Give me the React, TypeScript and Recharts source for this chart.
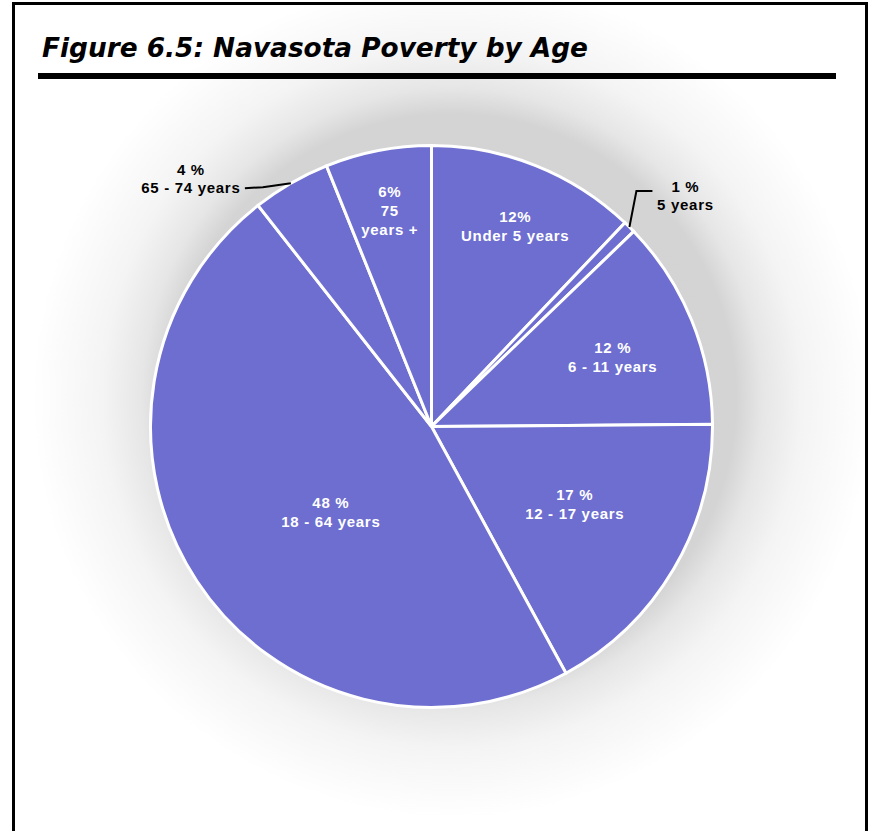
import React from "react";
import { PieChart, Pie, Cell } from "recharts";

// share of people below poverty line, by age group (clockwise from 12 o'clock)
const AGE_GROUPS = [
  "Under 5 years",
  "5 years",
  "6 - 11 years",
  "12 - 17 years",
  "18 - 64 years",
  "65 - 74 years",
  "75 years +",
];
const SHARES = [12.1, 0.7, 12.1, 17.2, 47.4, 4.5, 6.1];
const PCT_TEXT = ["12%", "1 %", "12 %", "17 %", "48 %", "4 %", "6%"];
const LABEL_TEXT = [
  ["Under 5 years"],
  ["5 years"],
  ["6 - 11 years"],
  ["12 -  17  years"],
  ["18 - 64  years"],
  ["65 - 74  years"],
  ["75", "years +"],
];

const SLICE_FILL = "#6D6ECF";
const RAD = Math.PI / 180;
const FONT = "'Liberation Sans', Arial, sans-serif";
const LBL_SIZE = 15;
const LBL_SPACING = 0.7;

// where each label sits: radius ratio + small angle nudge, or outside with a leader
const LABEL_PLACE: { r?: number; nudge?: number; outside?: "left" | "right" }[] = [
  { r: 0.77, nudge: -1 },
  { outside: "right" },
  { r: 0.69, nudge: -1.4 },
  { r: 0.58, nudge: 2 },
  { r: 0.47, nudge: 7 },
  { outside: "left" },
  { r: 0.78, nudge: 0 },
];

const data = AGE_GROUPS.map((name, i) => ({ name, value: SHARES[i] }));

const textProps = (fill: string) => ({
  textAnchor: "middle" as const,
  fontFamily: FONT,
  fontWeight: "bold",
  fontSize: LBL_SIZE,
  letterSpacing: LBL_SPACING,
  fill,
});

const renderLabel = (props: any) => {
  const { cx, cy, midAngle, outerRadius, index } = props;
  const place = LABEL_PLACE[index];
  const lines = [PCT_TEXT[index], ...LABEL_TEXT[index]];
  const lh = 19;

  if (place.outside) {
    const ex = cx + outerRadius * Math.cos(midAngle * RAD);
    const ey = cy - outerRadius * Math.sin(midAngle * RAD);
    if (place.outside === "right") {
      return (
        <g key={`lbl-${index}`}>
          <path
            d={`M${ex},${ey} L${ex + 7},${ey - 36} L${ex + 23},${ey - 36}`}
            stroke="#000"
            strokeWidth={2}
            fill="none"
          />
          <text x={ex + 56} y={ey - 35} {...textProps("#000")}>
            {lines.map((t, k) => (
              <tspan key={k} x={ex + 56} dy={k === 0 ? 0 : 18}>
                {t}
              </tspan>
            ))}
          </text>
        </g>
      );
    }
    return (
      <g key={`lbl-${index}`}>
        <path
          d={`M${ex},${ey} L${ex - 28},${ey + 4} L${ex - 46},${ey + 5}`}
          stroke="#000"
          strokeWidth={2}
          fill="none"
        />
        <text x={ex - 100} y={ey - 8} {...textProps("#000")}>
          {lines.map((t, k) => (
            <tspan key={k} x={ex - 100} dy={k === 0 ? 0 : 18}>
              {t}
            </tspan>
          ))}
        </text>
      </g>
    );
  }

  const a = (midAngle + (place.nudge || 0)) * RAD;
  const r = outerRadius * (place.r || 0.6);
  const x = cx + r * Math.cos(a);
  const y = cy - r * Math.sin(a);
  const y0 = y - ((lines.length - 1) * lh) / 2 + 5;
  return (
    <text key={`lbl-${index}`} x={x} y={y0} {...textProps("#fff")}>
      {lines.map((t, k) => (
        <tspan key={k} x={x} dy={k === 0 ? 0 : lh}>
          {t}
        </tspan>
      ))}
    </text>
  );
};

export default function App() {
  return (
    <div
      style={{
        position: "absolute",
        left: 0,
        top: 0,
        width: 871,
        height: 831,
        overflow: "hidden",
        background:
          "radial-gradient(circle at 452px 398px, #d2d2d2 0px, #d4d4d4 284px, #e6e6e6 310px, #f4f4f4 350px, #ffffff 420px)",
      }}
    >
      {/* frame */}
      <div
        style={{
          position: "absolute",
          left: 12,
          top: 2,
          width: 856,
          height: 900,
          border: "3px solid #000",
          boxSizing: "border-box",
        }}
      />
      {/* title */}
      <svg
        width={871}
        height={80}
        style={{ position: "absolute", left: 0, top: 0 }}
      >
        <text
          x={42}
          y={57}
          fontFamily="'DejaVu Sans', Verdana, sans-serif"
          fontWeight="bold"
          fontStyle="italic"
          fontSize={26}
          textLength={546}
          lengthAdjust="spacingAndGlyphs"
          fill="#000"
        >
          Figure 6.5: Navasota Poverty by Age
        </text>
        <rect x={38} y={73} width={798} height={6} fill="#000" />
      </svg>

      <div style={{ position: "absolute", left: 0, top: 0 }}>
        <PieChart
          width={871}
          height={831}
          margin={{ top: 0, right: 0, bottom: 0, left: 0 }}
        >
          <Pie
            data={data}
            dataKey="value"
            nameKey="name"
            cx={431.5}
            cy={426.5}
            outerRadius={281}
            startAngle={90}
            endAngle={-270}
            stroke="#ffffff"
            strokeWidth={3}
            label={renderLabel}
            labelLine={false}
            isAnimationActive={false}
          >
            {data.map((d, i) => (
              <Cell key={`cell-${i}`} fill={SLICE_FILL} />
            ))}
          </Pie>
        </PieChart>
      </div>
    </div>
  );
}
